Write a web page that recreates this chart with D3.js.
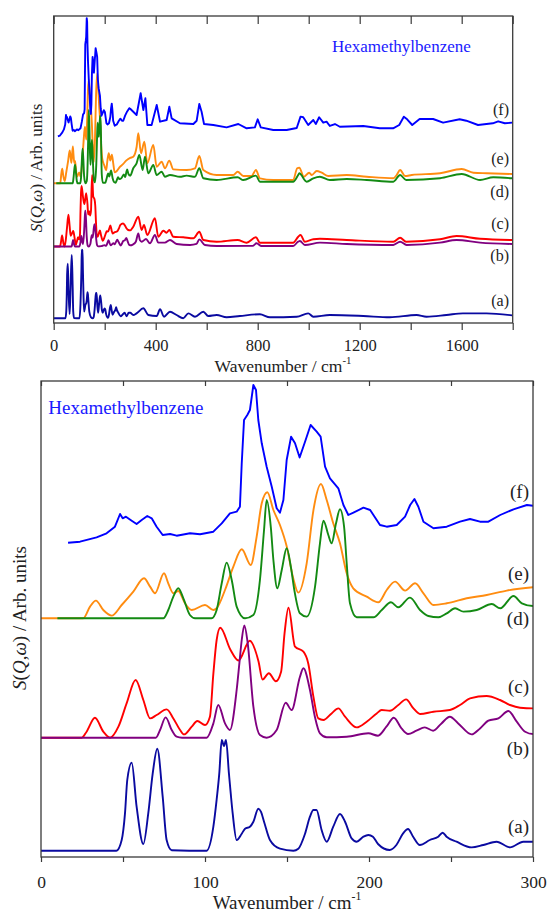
<!DOCTYPE html>
<html>
<head>
<meta charset="utf-8">
<script src="https://cdn.jsdelivr.net/npm/d3@7"></script>
<style>
  body { margin: 0; background: #fff; }
  svg { display: block; }
  text { font-family: "Liberation Serif", "Times New Roman", serif; fill: #222; }
</style>
</head>
<body>
<svg id="chart" width="547" height="912"></svg>
<script>
// INS spectra of hexamethylbenzene, S(Q,w) in arbitrary units vs wavenumber (cm-1)
const seriesLabels = ["(a)", "(b)", "(c)", "(d)", "(e)", "(f)"];
const seriesColors = ["#0a0aa0", "#800080", "#ff0000", "#138a13", "#ff8c10", "#0000ff"];

const specA = [[0,0],[46,0],[49.2,10.7],[51.2,37],[52.6,70.7],[55.3,88],[58.3,44],[62.4,6.7],[65.4,37.3],[68.1,77],[70.9,102],[74.2,54],[76.6,10.7],[79.7,0.5],[101,0],[105.1,24],[107.1,51],[108.7,77],[110.2,110.7],[111.6,104.7],[112.8,110.7],[114.6,77],[115.7,57],[116.9,37],[119.3,10.7],[122.4,17],[124.4,22],[127.4,24],[129.5,29],[132.5,42],[134.1,39],[136,29],[139.6,10.7],[145.7,2],[153.9,0],[156.9,2],[161,17],[164,34],[166.1,40.7],[168,40.7],[171.1,20.7],[174.2,9],[178.2,24],[182.3,36.7],[185.4,29],[189.4,12.3],[192.5,9],[196.6,14],[199.6,15.7],[202.4,14],[205.5,6.7],[212.6,0.7],[216.7,5.7],[220.8,17.3],[223.8,21.7],[226.9,14],[231,5.7],[237.1,10.7],[242.2,14],[244.9,18],[247.3,14],[253.4,9],[262.6,3.3],[269.7,5.7],[277.8,9],[286,3.3],[294.1,9],[300,9],[312,5.3],[325,8],[351.6,16.1],[371,5.3],[404,3.7],[417,14.5],[432.7,2.6],[456,10.6],[482,5.3],[508,0],[528,8],[554,2.6],[586.7,10.6],[606,3.7],[639,5.3],[678,1.6],[730,3.7],[808.6,6.5],[848,1.6],[953,2.6],[998,8],[1018,2.6],[1083,5.3],[1214,3.7],[1318,1.6],[1423,5.3],[1462,2.6],[1540,5.3],[1605,8],[1697,8],[1798,4.7]];

const specB = [[0,0],[70,0],[72.6,7.7],[76,20.3],[79.7,7.7],[82.7,1],[86,0],[101,0],[105.1,14.3],[108.1,32.7],[112.2,14.3],[115.2,7.7],[119.3,47.7],[121,75],[122.4,97.7],[124,112.2],[126,95],[129.5,31],[133.5,2.7],[137.6,0],[143.7,7.7],[149.2,35],[152.8,27.7],[157.9,61],[160,69.4],[164,47.7],[167,21],[170.1,4.4],[174.2,0.5],[186.4,1],[199.6,4.4],[205.5,2],[210.6,11],[215.1,20],[219.8,9.3],[223.8,3.7],[228.9,7],[234,10.3],[239.1,7],[244.2,14.3],[249.3,21],[254.4,14.3],[262.6,3.3],[267.7,9.3],[272.8,17],[278.9,19.3],[285,26.7],[290.1,16],[295.2,6],[300,3.7],[310,6],[322,15],[331.8,41],[338,20],[345,15],[362,23.4],[377.5,10],[397,36],[410,12],[436,12],[456,20.3],[482,7.8],[534.6,4.7],[560,8],[571,22.4],[593,4.7],[639,1.6],[780,2],[795.6,10],[815,1.6],[939,1.6],[958.7,15],[965.5,17.2],[985,4.7],[1044,12],[1149,7.8],[1332,4.7],[1358.5,15],[1384,4.7],[1515,12],[1580,20.3],[1672,12],[1798,7.8]];

const specC = [[0,0],[24.8,0],[27.8,6],[32.9,20],[38,6],[42.1,0],[47.2,11],[52.2,34.3],[57.7,57.7],[62.4,37.7],[66.5,19.3],[70.5,22.7],[76.6,28.3],[80.7,19.3],[84.8,7.7],[87.2,3.3],[91.9,11],[95.3,16.7],[100,12.7],[103,21],[105.1,64],[107.1,97.7],[109.3,110],[115.5,88],[120.4,77.2],[127.3,97],[132.6,76.5],[135.1,58.2],[138.9,64.4],[143.2,56.4],[146.4,66],[148.5,104.3],[150.9,130],[154.9,91],[160,86],[163,74],[166.1,41],[169.1,19.3],[172.2,17.7],[177.2,24.3],[181.3,29.3],[185.4,21],[192.5,10.3],[198.6,16],[204.7,24.3],[207.7,27.7],[212.8,27],[217.9,32.7],[222.6,38.3],[227.1,29.3],[231.1,23.7],[239.3,26],[249.3,27.7],[255.5,32.7],[261.6,39.3],[271.7,41.7],[279.9,37.7],[286,32.7],[292.1,30],[300,29.3],[312,36],[331.8,54.2],[345,30],[354,39],[367,20.9],[397,51.3],[410,17.8],[430,28.7],[443,25.1],[453.3,30],[469,17.8],[508,16.7],[548,14.9],[571,26.9],[586.7,11.8],[639,8.7],[721,11.8],[756.6,6.9],[793,16.7],[808.6,6.9],[939,6.9],[959,17.8],[968,20.9],[985,8.7],[1018,13.1],[1044,14],[1149,11.8],[1332,8.7],[1358.5,16],[1382,8.7],[1515,13.1],[1580,19.1],[1672,14],[1798,11.8]];

const specD = [[10,0],[74.6,0],[77.6,8.3],[80.7,21.7],[83.7,30],[86.8,20],[90.8,3.3],[94,0],[104,0],[107.1,8.3],[110.2,35],[113.2,55.7],[116.3,38.3],[119.3,11.7],[124.4,0],[129.5,3.3],[133.5,38.3],[136,88.3],[137.6,118.3],[140.1,91.7],[141.7,58.3],[144.1,30],[146.8,48.3],[149.8,70],[152.5,50],[154.5,28],[157.9,5],[162,1.7],[167.1,31.7],[170.1,75],[172.2,97.7],[175.2,83.3],[177.2,75],[179.9,95],[182.3,109],[184.8,91.7],[186.4,55],[188.4,15],[192.5,1],[202.7,1],[207.8,8.3],[213.4,16],[217.9,11],[225,20.7],[231.1,8.3],[236.2,2.3],[242.3,1],[247.4,5],[252.5,10],[257.6,6.7],[265.7,8.3],[274.9,14.3],[280,10],[288.1,22.3],[293.2,15],[300,12.3],[312,24.2],[325,32.3],[335.8,45.6],[348.8,21.5],[358,42.9],[371,16.1],[390.6,29.5],[403.7,13.4],[423.3,18.7],[436,10.6],[456,13.4],[495,10.6],[521,12.3],[554,10.6],[571,24.2],[586.7,8.1],[639,5.3],[721.4,9.7],[743.5,5.3],[793,12.3],[808.6,2.6],[861,2.6],[939,2.6],[958.7,13.4],[963,16.1],[992,2.6],[1018,8.1],[1044,10.6],[1083,5.3],[1149,6.9],[1227.5,5.3],[1332,2.6],[1358.5,13.4],[1382,5.3],[1515,8.1],[1600,15],[1672,5.3],[1724,9.7],[1798,8.1]];

const specE = [[0,0],[25.8,0],[29.9,11.7],[33.5,17.7],[38,8.3],[43.1,2.7],[49.2,13.3],[56.3,26.7],[62.8,40],[66.5,31.7],[69.5,25],[75,45],[77.6,35],[80.7,25],[83.7,27.3],[87.8,15],[91.9,8.3],[100,13.3],[105.1,8.3],[107.1,10],[112.2,28.3],[117.3,51.7],[122.4,69],[127.9,53.3],[131.5,81.7],[134.6,115],[138,126],[141.7,108.3],[145.7,93.3],[149.8,72],[153.8,40],[156.9,25.7],[162,55],[166.1,108],[170.7,134.3],[174.2,118.3],[178.2,95],[182.3,75],[186.4,45],[190.4,30],[198.6,21.7],[205.7,16],[210.8,28.3],[215.9,36.7],[222,27.7],[228.1,35],[233.2,25],[239.3,13.3],[247.4,15],[259.6,20],[271.8,23.3],[284,27.7],[300,31],[312,32.4],[325.3,44.6],[331.8,61],[342.3,36.6],[355.4,50.7],[367.1,24.4],[390.6,46.7],[403.7,20.2],[423.3,26.3],[436.3,18.3],[453.3,27.6],[469,17],[521.3,16.2],[554,18.3],[571,33.3],[586.7,16.2],[639,10.1],[704.3,10.1],[721.4,14.1],[743.5,8.9],[776,8.9],[793,16.2],[808.6,6.1],[860.9,4],[939,4],[955,18.3],[963,19],[981.4,8],[1002,12.9],[1012,10.1],[1031.4,15],[1051,12.9],[1077,8.9],[1149,10.1],[1227.5,8],[1332,6.1],[1345,10.1],[1358.5,16.2],[1378,8.9],[1404,10.1],[1515,12.2],[1600,17.4],[1646,12.9],[1698,12.2],[1798,11.3]];

const specF = [[16.5,17.3],[23.8,18.3],[33.9,22.7],[40,26.7],[45.1,33.3],[48.2,46],[49.8,41.7],[51.8,43.3],[55.3,39.3],[58.3,36],[61.4,40],[64.8,44],[67.5,41.7],[70.5,33.3],[74.2,25],[78.7,26],[82.7,24.3],[90.9,26.7],[97,25.7],[105.1,28.3],[110.2,36.7],[115.2,46.7],[119.3,48.3],[121.3,53.3],[122.4,96.7],[123.8,140],[125.8,145],[127.4,150],[129.5,175],[131.1,170],[132.5,140],[134.6,116.7],[137.6,93.3],[140.7,73.3],[143.7,51.7],[145.7,47.3],[147.8,60],[149.8,100],[152.5,123.3],[154.9,116.7],[157.7,102.5],[161,118.3],[164.4,135],[168.1,128.3],[170.5,123.3],[173.2,93.3],[176.2,81.7],[181.3,71.7],[184.4,55],[187.4,45],[190.5,47.3],[196.6,52.3],[200.7,50],[206.7,35],[210.8,33.3],[216.9,35],[222,43.3],[225.1,55],[227.7,61],[230.1,53.3],[233.2,38.3],[239.3,31.7],[247.4,33.3],[255.5,38.3],[261.6,41],[267.7,38.3],[272.8,38.3],[280,45],[288.1,50.7],[296.3,55],[300,54.3],[325,45.9],[341,74.9],[351.6,52.6],[359.5,68.2],[367.3,32.6],[384,32.6],[404,59.3],[417,37],[443,39.3],[453.5,57],[462.6,41.5],[495,34.9],[547.6,33.9],[560.7,38.3],[571,60.6],[580,50.3],[589.5,33.9],[626,32.6],[678,29.5],[724,33.9],[756.6,28.2],[789,29.5],[800,40.2],[812,29.5],[861,25.9],[913.7,25.9],[953,28.6],[968,43.7],[978.6,42.9],[998,32.6],[1018,39.3],[1028,33.9],[1041,42.9],[1057,35.7],[1070,37],[1083,31.3],[1103,33.9],[1122,30.3],[1214,31.3],[1279,28.2],[1331,28.2],[1355,32.6],[1373,43.7],[1386,40.2],[1406,32.6],[1435,40.6],[1488,40.6],[1527,35.7],[1592,40.2],[1618,38.3],[1664,32.6],[1722,34.9],[1743,37.5],[1769,34.9],[1798,35.7]];

const spectra = [specA, specB, specC, specD, specE, specF];

// Vertical stacking of the six traces in each panel (arb. units) and per-trace scaling
const overviewOffsets = [4.7, 76.5, 76.5, 139.7, 139.7, 173.55];
const overviewGains   = [0.62, 0.32, 0.55, 0.62, 0.82, 0.75];
const detailOffsets   = [6.3, 119.3, 119.3, 238.7, 238.7, 297];
const detailGains     = [1, 1, 1, 1, 1, 1];

const overviewTicks = d3.range(0, 1801, 200);
const overviewTickLabels = [0, 400, 800, 1200, 1600];
const detailTicks = d3.range(0, 301, 50);
const detailTickLabels = [0, 100, 200, 300];

const svg = d3.select("#chart");

const panels = [
  {
    id: "overview",
    box: { left: 53.7, right: 512.7, top: 16, bottom: 323 },
    xDomain: [0, 1800], yMax: 307,
    offsets: overviewOffsets, gains: overviewGains,
    ticks: overviewTicks, tickLabels: overviewTickLabels,
    tickOut: 7, tickIn: 8, tickFont: 16.5, tickPad: 9,
    lineWidth: 1.9,
    xTitle: { x: 283, y: 372, size: 17.5 },
    yTitle: { x: 42, y: 168, size: 17 },
    name: { x: 332, y: 52, size: 17 },
    seriesLabel: { x: 509, size: 16, y: [305.5, 260.5, 229, 197, 164, 115.4] }
  },
  {
    id: "detail",
    box: { left: 41, right: 533, top: 381, bottom: 857 },
    xDomain: [0, 300], yMax: 476,
    offsets: detailOffsets, gains: detailGains,
    ticks: detailTicks, tickLabels: detailTickLabels,
    tickOut: 5, tickIn: 5, tickFont: 17.5, tickPad: 14,
    lineWidth: 1.9,
    xTitle: { x: 287, y: 909, size: 19 },
    yTitle: { x: 26, y: 618, size: 19 },
    name: { x: 48.3, y: 414.3, size: 19 },
    seriesLabel: { x: 529, size: 19, y: [833.3, 755, 693.3, 625, 580, 498.3] }
  }
];

panels.forEach(p => {
  const b = p.box;
  const x = d3.scaleLinear().domain(p.xDomain).range([b.left, b.right]);
  const y = d3.scaleLinear().domain([0, p.yMax]).range([b.bottom, b.top]);
  const g = svg.append("g").attr("class", p.id);

  g.append("clipPath").attr("id", "clip-" + p.id)
    .append("rect").attr("x", b.left).attr("y", b.top)
    .attr("width", b.right - b.left).attr("height", b.bottom - b.top);

  // spectra
  const traces = g.append("g").attr("clip-path", `url(#clip-${p.id})`);
  const order = [0, 2, 1, 4, 3, 5];
  order.forEach(i => {
    const data = spectra[i].filter(d => d[0] <= p.xDomain[1] + 20);
    const line = d3.line()
      .x(d => x(d[0]))
      .y(d => y(p.offsets[i] + p.gains[i] * d[1]))
      .curve(i === 5 ? d3.curveLinear : d3.curveMonotoneX);
    traces.append("path").datum(data)
      .attr("d", line)
      .attr("fill", "none")
      .attr("stroke", seriesColors[i])
      .attr("stroke-width", p.lineWidth)
      .attr("stroke-linejoin", "round");
  });

  // frame
  g.append("rect").attr("x", b.left).attr("y", b.top)
    .attr("width", b.right - b.left).attr("height", b.bottom - b.top)
    .attr("fill", "none").attr("stroke", "#3a3a3a").attr("stroke-width", 1.3);

  // bottom axis: ticks pointing out, labels on every other tick
  const bottomAxis = d3.axisBottom(x).tickValues(p.ticks)
    .tickSize(p.tickOut).tickPadding(p.tickPad)
    .tickFormat(d => p.tickLabels.includes(d) ? d : "");
  const ax = g.append("g").attr("transform", `translate(0,${b.bottom})`).call(bottomAxis);
  ax.select(".domain").remove();
  ax.selectAll(".tick line").attr("stroke", "#3a3a3a").attr("stroke-width", 1.2);
  ax.selectAll(".tick text")
    .attr("font-family", '"Liberation Serif", "Times New Roman", serif')
    .attr("font-size", p.tickFont).attr("fill", "#222");

  // top axis: ticks pointing into the plot
  const topAxis = d3.axisBottom(x).tickValues(p.ticks).tickSize(p.tickIn).tickFormat("");
  const at = g.append("g").attr("transform", `translate(0,${b.top})`).call(topAxis);
  at.select(".domain").remove();
  at.selectAll(".tick line").attr("stroke", "#3a3a3a").attr("stroke-width", 1.2);

  // x title
  const xt = g.append("text").attr("x", p.xTitle.x).attr("y", p.xTitle.y)
    .attr("text-anchor", "middle").attr("font-size", p.xTitle.size);
  xt.append("tspan").text("Wavenumber / cm");
  xt.append("tspan").attr("dy", -p.xTitle.size * 0.45).attr("font-size", p.xTitle.size * 0.62).text("-1");

  // y title
  const yt = g.append("text")
    .attr("transform", `translate(${p.yTitle.x},${p.yTitle.y}) rotate(-90)`)
    .attr("text-anchor", "middle").attr("font-size", p.yTitle.size);
  yt.append("tspan").attr("font-style", "italic").text("S");
  yt.append("tspan").text("(");
  yt.append("tspan").attr("font-style", "italic").text("Q");
  yt.append("tspan").text(",");
  yt.append("tspan").attr("font-style", "italic").text("ω");
  yt.append("tspan").text(") / Arb. units");

  // compound name
  g.append("text").attr("x", p.name.x).attr("y", p.name.y)
    .attr("font-size", p.name.size).style("fill", "#1a1aff")
    .text("Hexamethylbenzene");

  // trace labels
  seriesLabels.forEach((lab, i) => {
    g.append("text").attr("x", p.seriesLabel.x).attr("y", p.seriesLabel.y[i])
      .attr("text-anchor", "end").attr("font-size", p.seriesLabel.size)
      .text(lab);
  });
});
</script>
</body>
</html>
